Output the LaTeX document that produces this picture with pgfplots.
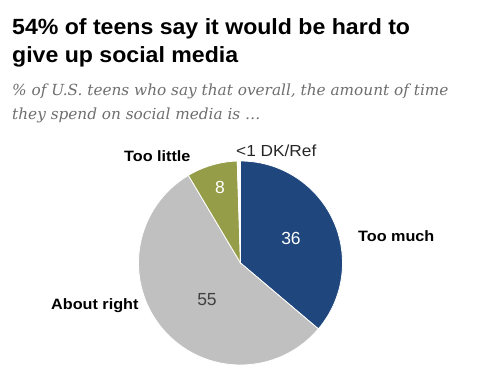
\documentclass[border=0pt]{standalone}
\usepackage{pgfplots}
\pgfplotsset{compat=1.18}
\usepackage{fontspec}
\setmainfont{Liberation Sans}
\newfontfamily\titlefont[FakeStretch=1.05]{Liberation Sans}
\newfontfamily\labfont[FakeStretch=1.08]{Liberation Sans}
\newfontfamily\subfont{DejaVu Serif}
\definecolor{tmblue}{RGB}{31,71,125}
\definecolor{argray}{RGB}{192,192,192}
\definecolor{tlgreen}{RGB}{150,157,72}
\definecolor{subgray}{RGB}{110,110,110}
\begin{document}
\begin{tikzpicture}
\begin{axis}[width=483pt,height=382pt,scale only axis,
  xmin=0,xmax=483,ymin=0,ymax=382,axis lines=none,clip=false]
% data: Too much 36, About right 55, Too little 8, DK/Ref <1 (0.5)
% angles clockwise from 12 o'clock, share of 99.5
\fill[tmblue,draw=white,line width=0.8pt] (axis cs:240.5,119) -- ++(90:102pt) arc[start angle=90,end angle=-40.25,radius=102pt] -- cycle;
\fill[argray,draw=white,line width=0.8pt] (axis cs:240.5,119) -- ++(-40.25:102pt) arc[start angle=-40.25,end angle=-239.24,radius=102pt] -- cycle;
\fill[tlgreen,draw=white,line width=0.8pt] (axis cs:240.5,119) -- ++(-239.24:102pt) arc[start angle=-239.24,end angle=-268.18,radius=102pt] -- cycle;
\fill[white,draw=white,line width=0.8pt] (axis cs:240.5,119) -- ++(-268.18:102pt) arc[start angle=-268.18,end angle=-270,radius=102pt] -- cycle;
% slice values
\node[white,font=\fontsize{17.5}{19}\selectfont] at (axis cs:291,144) {36};
\node[white,font=\fontsize{17.5}{19}\selectfont] at (axis cs:220,195) {8};
\node[black!75,font=\fontsize{17.5}{19}\selectfont] at (axis cs:207,82) {55};
% category labels
\node[anchor=west,inner sep=0pt,font=\labfont\bfseries\fontsize{15}{17}\selectfont] at (axis cs:124,226) {Too little};
\node[anchor=west,inner sep=0pt,black!85,font=\labfont\fontsize{16}{18}\selectfont] at (axis cs:236,231) {<1 DK/Ref};
\node[anchor=west,inner sep=0pt,font=\labfont\bfseries\fontsize{15}{17}\selectfont] at (axis cs:358,146) {Too much};
\node[anchor=west,inner sep=0pt,font=\labfont\bfseries\fontsize{15}{17}\selectfont] at (axis cs:51,76) {About right};
% title and subtitle
\node[anchor=base west,inner sep=0pt,font=\titlefont\bfseries\fontsize{22}{26}\selectfont] at (axis cs:12,347) {54\% of teens say it would be hard to};
\node[anchor=base west,inner sep=0pt,font=\titlefont\bfseries\fontsize{22}{26}\selectfont] at (axis cs:12,319) {give up social media};
\node[anchor=base west,inner sep=0pt,subgray,font=\subfont\itshape\fontsize{15.3}{17}\selectfont] at (axis cs:12,286) {\% of U.S. teens who say that overall, the amount of time};
\node[anchor=base west,inner sep=0pt,subgray,font=\subfont\itshape\fontsize{15.3}{17}\selectfont] at (axis cs:12,262) {they spend on social media is \dots};
\end{axis}
\pgfresetboundingbox
\useasboundingbox (current axis.south west) rectangle (current axis.north east);
\end{tikzpicture}
\end{document}
